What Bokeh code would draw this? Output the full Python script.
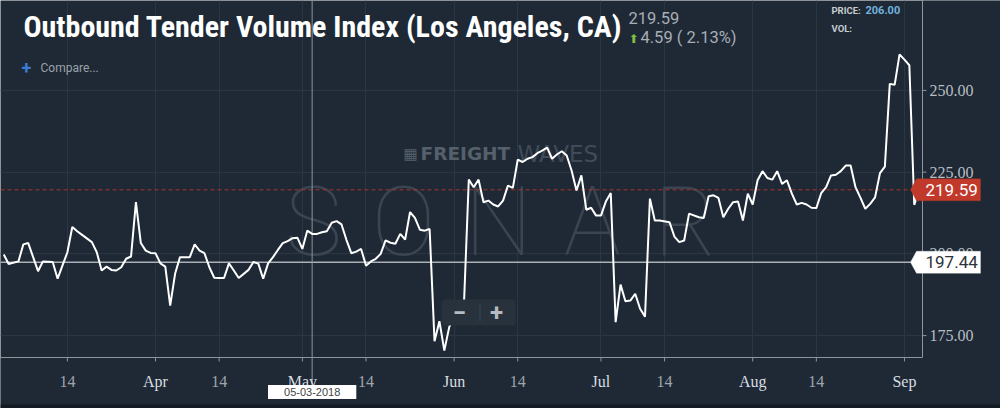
import pandas as pd
from bokeh.plotting import figure
from bokeh.models import (Range1d, FixedTicker, Grid, Label, LabelSet, PolyAnnotation,
                          BoxAnnotation, ColumnDataSource)
from bokeh.core.properties import field
from bokeh.embed import file_html
from bokeh.resources import INLINE

# ---------------- data ----------------
dates = [
    "2018-03-01", "2018-03-02", "2018-03-04", "2018-03-05", "2018-03-06", "2018-03-08",
    "2018-03-09", "2018-03-11", "2018-03-12", "2018-03-14", "2018-03-15", "2018-03-16",
    "2018-03-17", "2018-03-19", "2018-03-20", "2018-03-21", "2018-03-22", "2018-03-23",
    "2018-03-24", "2018-03-25", "2018-03-26", "2018-03-27", "2018-03-28", "2018-03-29",
    "2018-03-30", "2018-03-31", "2018-04-01", "2018-04-02", "2018-04-03", "2018-04-04",
    "2018-04-05", "2018-04-06", "2018-04-07", "2018-04-08", "2018-04-09", "2018-04-10",
    "2018-04-11", "2018-04-12", "2018-04-13", "2018-04-14", "2018-04-15", "2018-04-16",
    "2018-04-17", "2018-04-18", "2018-04-20", "2018-04-21", "2018-04-22", "2018-04-23",
    "2018-04-24", "2018-04-25", "2018-04-26", "2018-04-27", "2018-04-28", "2018-04-29",
    "2018-04-30", "2018-05-01", "2018-05-02", "2018-05-03", "2018-05-04", "2018-05-05",
    "2018-05-06", "2018-05-07", "2018-05-08", "2018-05-09", "2018-05-10", "2018-05-11",
    "2018-05-12", "2018-05-13", "2018-05-14", "2018-05-15", "2018-05-16", "2018-05-17",
    "2018-05-18", "2018-05-19", "2018-05-20", "2018-05-21", "2018-05-22", "2018-05-23",
    "2018-05-24", "2018-05-25", "2018-05-26", "2018-05-27", "2018-05-28", "2018-05-29",
    "2018-05-30", "2018-05-31", "2018-06-01", "2018-06-02", "2018-06-03", "2018-06-04",
    "2018-06-05", "2018-06-06", "2018-06-07", "2018-06-08", "2018-06-09", "2018-06-10",
    "2018-06-11", "2018-06-12", "2018-06-13", "2018-06-14", "2018-06-15", "2018-06-16",
    "2018-06-17", "2018-06-18", "2018-06-19", "2018-06-20", "2018-06-21", "2018-06-22",
    "2018-06-23", "2018-06-24", "2018-06-25", "2018-06-26", "2018-06-27", "2018-06-28",
    "2018-06-29", "2018-06-30", "2018-07-01", "2018-07-02", "2018-07-03", "2018-07-04",
    "2018-07-05", "2018-07-06", "2018-07-07", "2018-07-08", "2018-07-09", "2018-07-10",
    "2018-07-11", "2018-07-12", "2018-07-13", "2018-07-15", "2018-07-16", "2018-07-17",
    "2018-07-18", "2018-07-19", "2018-07-21", "2018-07-22", "2018-07-23", "2018-07-24",
    "2018-07-25", "2018-07-26", "2018-07-27", "2018-07-28", "2018-07-29", "2018-07-30",
    "2018-07-31", "2018-08-01", "2018-08-02", "2018-08-03", "2018-08-04", "2018-08-05",
    "2018-08-06", "2018-08-07", "2018-08-08", "2018-08-09", "2018-08-10", "2018-08-11",
    "2018-08-12", "2018-08-13", "2018-08-14", "2018-08-15", "2018-08-16", "2018-08-17",
    "2018-08-18", "2018-08-19", "2018-08-20", "2018-08-21", "2018-08-22", "2018-08-23",
    "2018-08-24", "2018-08-25", "2018-08-26", "2018-08-27", "2018-08-28", "2018-08-29",
    "2018-08-30", "2018-08-31", "2018-09-01", "2018-09-02", "2018-09-03", "2018-09-04",
]
values = [
    199.8, 196.9, 197.7, 202.9, 203.3, 194.7,
    197.7, 197.5, 192.4, 200.5, 208.2, 206.9,
    205.8, 203.6, 200.5, 194.9, 196.1, 195.1,
    194.9, 195.9, 198.5, 199.2, 215.8, 203.3,
    201.0, 200.3, 200.2, 197.1, 196.1, 184.2,
    193.9, 199.0, 199.0, 199.0, 202.9, 201.0,
    200.2, 195.9, 192.7, 192.6, 192.6, 197.1,
    194.9, 192.6, 195.1, 197.5, 197.0, 192.4,
    197.1, 199.0, 201.2, 203.3, 203.9, 204.8,
    204.9, 201.5, 207.1, 206.1, 206.1, 206.6,
    206.9, 209.5, 210.0, 209.0, 204.3, 200.2,
    200.7, 201.5, 196.4, 197.7, 198.5, 200.0,
    204.1, 203.4, 203.1, 206.1, 204.4, 212.8,
    211.0, 207.4, 207.1, 207.6, 173.3, 179.4,
    170.4, 177.6, 181.0, 183.0, 184.0, 222.7,
    220.4, 222.7, 215.8, 216.3, 215.1, 214.5,
    216.3, 220.9, 220.2, 228.8, 228.1, 229.1,
    229.6, 230.8, 231.6, 232.5, 229.1, 230.4,
    231.4, 230.1, 225.5, 219.4, 224.0, 213.5,
    214.1, 211.7, 211.7, 216.0, 218.6, 179.1,
    190.6, 185.5, 185.7, 187.8, 183.2, 180.8,
    216.9, 210.2, 210.2, 209.7, 205.3, 203.6,
    204.1, 212.3, 211.2, 211.0, 217.6, 217.9,
    217.1, 211.2, 213.8, 215.8, 216.0, 210.2,
    218.4, 215.1, 222.5, 225.3, 223.2, 222.7,
    225.3, 221.4, 222.5, 218.4, 215.1, 215.6,
    215.1, 214.1, 214.0, 218.6, 220.4, 224.0,
    224.2, 225.3, 227.0, 227.0, 220.4, 217.2,
    213.8, 215.3, 217.3, 224.7, 226.7, 252.0,
    251.7, 261.0, 259.4, 257.7, 215.0, 219.59,
]

tick_dates = ["2018-03-14", "2018-04-01", "2018-04-14", "2018-05-01", "2018-05-14",
              "2018-06-01", "2018-06-14", "2018-07-01", "2018-07-14", "2018-08-01",
              "2018-08-14", "2018-09-01"]
tick_labels = ["14", "Apr", "14", "May", "14", "Jun", "14", "Jul", "14", "Aug", "14", "Sep"]
y_ticks = [175, 200, 225, 250]

title_text = "Outbound Tender Volume Index (Los Angeles, CA)"
last_value = 219.59
change = 4.59
change_pct = 2.13
cross_date = "2018-05-03"
cross_value = 197.44
hover_price = 206.00

# ---------------- layout / style ----------------
W, H = 1000, 408
AX_X, AX_Y = 922, 357          # pixel position of the right and bottom axis lines
X_START = pd.Timestamp("2018-02-28 08:00")
PLOT_END = pd.Timestamp("2018-09-04 16:30")   # date at the right axis line
X_END = X_START + (PLOT_END - X_START) * (W / AX_X)
Y_TOP, Y_AXIS = 277.5, 168.3   # values at the top edge and at the bottom axis line
PPU = AX_Y / (Y_TOP - Y_AXIS)  # pixels per unit
Y_BOTTOM = Y_AXIS - (H - AX_Y) / PPU
MS_PER_PX = (PLOT_END - X_START).total_seconds() * 1000 / AX_X

BG = "#1e2935"
GRID = "#2b3643"
AXIS = "#8e959c"
FONT = "Roboto"


def ms(d):
    return pd.Timestamp(d).value / 1e6


def sy(y_from_top):
    return H - y_from_top


def screen_box(left, right, top, bottom, **kw):
    return BoxAnnotation(left=left, right=right, top=sy(top), bottom=sy(bottom),
                         left_units="screen", right_units="screen", top_units="screen",
                         bottom_units="screen", **kw)


p = figure(width=W, height=H, x_axis_location=None, y_axis_location=None,
           output_backend="svg", toolbar_location=None,
           x_range=Range1d(ms(X_START), ms(X_END)), y_range=Range1d(Y_BOTTOM, Y_TOP),
           min_border=0, min_border_left=0, min_border_right=0, min_border_top=0,
           min_border_bottom=0, background_fill_color=BG, border_fill_color=BG,
           outline_line_color=None)
p.center = []

tick_ms = [ms(d) for d in tick_dates]
xt = FixedTicker(ticks=tick_ms)
yt = FixedTicker(ticks=y_ticks)
p.add_layout(Grid(dimension=0, ticker=xt, grid_line_color=GRID))
p.add_layout(Grid(dimension=1, ticker=yt, grid_line_color=GRID))
# axis margins (cover grid lines outside the plotting area)
p.add_layout(screen_box(AX_X + 1, W, 0, H, fill_color=BG, fill_alpha=1, line_color=None, level="underlay"))
p.add_layout(screen_box(0, W, AX_Y + 1, H, fill_color=BG, fill_alpha=1, line_color=None, level="underlay"))
p.add_layout(screen_box(0, W, H - 4, H, fill_color="#141b23", fill_alpha=1, line_color=None, level="underlay"))

# watermark
for ch, cx in zip("SONAR", [313, 403, 498, 592, 685]):
    p.add_layout(Label(x=cx, y=sy(221), x_units="screen", y_units="screen", text=ch,
                       text_align="center", text_baseline="middle",
                       text_font="'Roboto Thin', 'Lato Hairline', 'Lato Light', Roboto",
                       text_font_size="96px", text_color="#3a4551", level="underlay"))
p.add_layout(Label(x=403, y=sy(153), x_units="screen", y_units="screen", text="▦",
                   text_font="DejaVu Sans", text_font_size="15px", text_color="#56606b",
                   text_baseline="middle", level="underlay"))
p.add_layout(Label(x=420, y=sy(153), x_units="screen", y_units="screen", text="FREIGHT",
                   text_font="DejaVu Sans", text_font_style="bold", text_font_size="18.5px",
                   text_color="#56606b", text_baseline="middle", level="underlay"))
p.add_layout(Label(x=517, y=sy(153), x_units="screen", y_units="screen", text="WAVES",
                   text_font="DejaVu Sans", text_font_size="23px",
                   text_color="#404b57", text_baseline="middle", level="underlay"))

# axis lines and ticks
p.segment(x0=[ms(X_START)], y0=[Y_AXIS], x1=[ms(PLOT_END)], y1=[Y_AXIS], line_color=AXIS, line_width=1)
p.segment(x0=[ms(PLOT_END)], y0=[Y_AXIS], x1=[ms(PLOT_END)], y1=[Y_TOP], line_color=AXIS, line_width=1)
p.segment(x0=tick_ms, y0=[Y_AXIS] * len(tick_ms), x1=tick_ms, y1=[Y_AXIS - 4 / PPU] * len(tick_ms),
          line_color=AXIS, line_width=1)
p.segment(x0=[ms(PLOT_END)] * len(y_ticks), y0=y_ticks, x1=[ms(PLOT_END) + 4 * MS_PER_PX] * len(y_ticks),
          y1=y_ticks, line_color=AXIS, line_width=1)

# reference lines
p.segment(x0=[ms(X_START)], y0=[last_value], x1=[ms(PLOT_END)], y1=[last_value],
          line_color="#a8352b", line_width=1, line_dash="4 3")
p.segment(x0=[ms(X_START)], y0=[cross_value], x1=[ms(PLOT_END)], y1=[cross_value],
          line_color="#aab0b6", line_width=1.5)
p.segment(x0=[ms(cross_date)], y0=[Y_TOP], x1=[ms(cross_date)], y1=[Y_AXIS - 27 / PPU],
          line_color="#8d949b", line_width=1)

# series
src = ColumnDataSource(dict(date=[ms(d) for d in dates], value=values))
p.line(x="date", y="value", source=src, line_color="white", line_width=2)

# tick labels
month_col, day_col = "#d9dde1", "#9ea5ac"
xsrc = ColumnDataSource(dict(x=tick_ms, text=tick_labels,
                             color=[day_col if t.isdigit() else month_col for t in tick_labels]))
p.add_layout(LabelSet(x="x", y=sy(381), y_units="screen", text="text", source=xsrc,
                      text_align="center", text_baseline="middle", text_font=FONT,
                      text_font_size="16px", text_color=field("color")))
ysrc = ColumnDataSource(dict(y=y_ticks, text=[f"{v:.2f}" for v in y_ticks]))
p.add_layout(LabelSet(x=AX_X + 7, x_units="screen", y="y", text="text", source=ysrc,
                      text_align="left", text_baseline="middle", text_font=FONT,
                      text_font_size="16px", text_color="#b8bec4"))

# zoom button
p.add_layout(screen_box(441, 515, 299, 325, fill_color="#28323d", fill_alpha=1, line_color=None,
                        border_radius=4))
p.add_layout(screen_box(479, 480, 303, 321, fill_color="#3a4551", fill_alpha=1, line_color=None))
for sym, cx in [("−", 459), ("+", 496)]:
    p.add_layout(Label(x=cx, y=sy(312), x_units="screen", y_units="screen", text=sym,
                       text_align="center", text_baseline="middle", text_font=FONT,
                       text_font_style="bold", text_font_size="24px", text_color="#b5bbc1"))

# title and header texts
p.add_layout(Label(x=23, y=sy(26), x_units="screen", y_units="screen", text=title_text,
                   text_font="'Roboto Condensed', 'Liberation Sans Narrow', 'DejaVu Sans Condensed', Roboto",
                   text_font_style="bold", text_font_size="30px", text_color="white",
                   text_baseline="middle"))
p.add_layout(Label(x=628, y=sy(17.5), x_units="screen", y_units="screen", text=f"{last_value:.2f}",
                   text_font=FONT, text_font_size="16.5px", text_color="#a7aeb5",
                   text_baseline="middle"))
p.add_layout(Label(x=628, y=sy(38), x_units="screen", y_units="screen", text="⬆",
                   text_font="DejaVu Sans", text_font_size="12px", text_color="#7cc242",
                   text_baseline="middle"))
p.add_layout(Label(x=640, y=sy(36.5), x_units="screen", y_units="screen",
                   text=f"{change:.2f} ( {change_pct:.2f}%)",
                   text_font=FONT, text_font_size="16.5px", text_color="#a7aeb5",
                   text_baseline="middle"))
p.add_layout(Label(x=21, y=sy(67), x_units="screen", y_units="screen", text="+",
                   text_font=FONT, text_font_style="bold", text_font_size="18px",
                   text_color="#3b7bd6", text_baseline="middle"))
p.add_layout(Label(x=40, y=sy(67), x_units="screen", y_units="screen", text="Compare...",
                   text_font=FONT, text_font_size="12px", text_color="#9ba2a9",
                   text_baseline="middle"))
p.add_layout(Label(x=831, y=sy(9.5), x_units="screen", y_units="screen", text="PRICE:",
                   text_font=FONT, text_font_style="bold", text_font_size="9.5px",
                   text_color="#c6cbd0", text_baseline="middle"))
p.add_layout(Label(x=865, y=sy(9.5), x_units="screen", y_units="screen", text=f"{hover_price:.2f}",
                   text_font=FONT, text_font_style="bold", text_font_size="11px",
                   text_color="#72b2de", text_baseline="middle"))
p.add_layout(Label(x=831, y=sy(28), x_units="screen", y_units="screen", text="VOL:",
                   text_font=FONT, text_font_style="bold", text_font_size="9.5px",
                   text_color="#c6cbd0", text_baseline="middle"))

# price tags on the right
half = 11 / PPU
for val, fill, tcol in [(last_value, "#c0392b", "white"), (cross_value, "white", "#2d333a")]:
    p.add_layout(PolyAnnotation(xs=[910, 916, 980, 980, 916],
                                ys=[val, val + half, val + half, val - half, val - half],
                                xs_units="screen", ys_units="data", fill_color=fill, fill_alpha=1,
                                line_color=fill, line_width=1))
    p.add_layout(Label(x=925, y=val, x_units="screen", y_units="data", text=f"{val:.2f}",
                       text_font=FONT, text_font_size="17px", text_color=tcol,
                       text_baseline="middle"))

# crosshair date box
p.add_layout(Label(x=ms(cross_date), y=sy(391.5), x_units="data", y_units="screen",
                   text=pd.Timestamp(cross_date).strftime("%m-%d-%Y"),
                   text_align="center", text_baseline="middle", text_font="Liberation Sans",
                   text_font_size="11px", text_color="#444444",
                   background_fill_color="white", padding=(16, 3)))

open("out.html", "w").write(file_html(p, INLINE))
